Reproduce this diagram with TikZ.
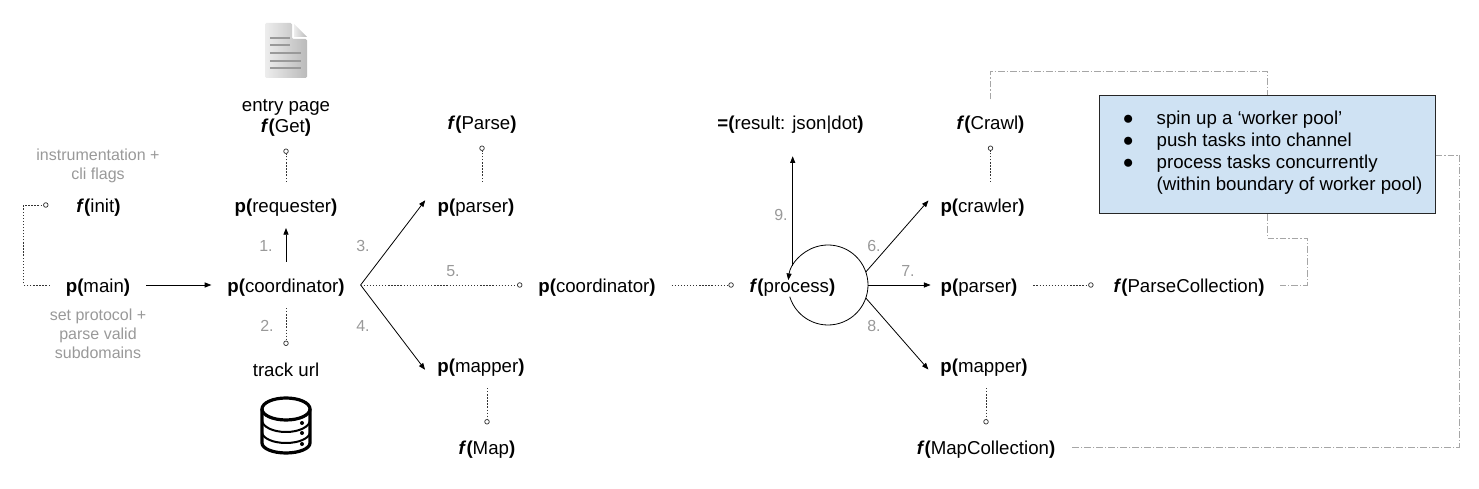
\documentclass[tikz,border=0pt]{standalone}
\usepackage{fontspec}
\setmainfont{Liberation Sans}
\usetikzlibrary{positioning,arrows.meta}
\definecolor{poolblue}{HTML}{CFE2F3}
\newcommand{\pfn}[1]{\textbf{p(}#1\textbf{)}}
\newcommand{\ffn}[1]{\textbf{\textit{f}(}#1\textbf{)}}
\tikzset{fnode/.style={font=\fontsize{14}{16}\selectfont, text height=14pt, text depth=3pt, inner xsep=12pt, inner ysep=8.8pt, outer sep=0pt}}
\tikzset{steplbl/.style={font=\fontsize{12}{14.25}\selectfont, text=black!40, align=center, inner sep=0pt}}
\tikzset{arr/.style={draw, -{Triangle[length=5pt,width=3.8pt]}, line width=.6pt}}
\tikzset{arr1/.style={arr, shorten >=-4.5pt}}
\tikzset{dots/.style={draw=black!80, line width=.55pt, dash pattern=on 1pt off 1.3pt, -{Circle[open,length=4pt,width=4pt,fill=white]}}}
\tikzset{gline/.style={draw=black!35, line width=.6pt, dash pattern=on 5pt off 1.5pt on 1pt off 1.5pt}}
\tikzset{poolbox/.style={draw=black!85, line width=.75pt, fill=poolblue, minimum width=252pt, minimum height=88.5pt, inner sep=0pt, font=\fontsize{14}{16.5}\selectfont}}
\begin{document}
\begin{tikzpicture}[x=.75pt, y=.75pt]
	\useasboundingbox (0,0) rectangle (1479,489);
	% left part
	\node[fnode] (main) at (98,204) {\pfn{main}};
	\node[fnode] (init) at (98.5,284) {\ffn{init}};
	\node[fnode] (coord) at (286,204) {\pfn{coordinator}};
	\node[fnode] (req) at (286,284) {\pfn{requester}};
	\node[fnode] (get) at (286,363.5) {\ffn{Get}};
	\node[fnode] (entry) at (286,385) {entry page};
	\node[fnode] (track) at (286,120) {track url};
	\node[steplbl] (flags) at (98,323.5) {instrumentation +\\cli flags};
	\node[steplbl] (proto) at (98,155) {set protocol +\\parse valid\\subdomains};
	%
	\node[fnode] (parser) at (476,284) {\pfn{parser}};
	\node[fnode] (parse) at (482,366.5) {\ffn{Parse}};
	\node[fnode] (mapper) at (481,124) {\pfn{mapper}};
	\node[fnode] (map) at (487,41.5) {\ffn{Map}};
	\node[fnode] (coordb) at (597,204) {\pfn{coordinator}};
	% process
	\node[fnode] (proc) at (792.5,204) {\ffn{process}};
	\node[circle, minimum size=60pt, inner sep=0pt, outer sep=0pt] (ring) at (828,204) {};
	\node[fnode] (result) at (790.5,366.5) {\textbf{=(}result: json|dot\textbf{)}};
	% right part
	\node[fnode] (crawler) at (982.5,284) {\pfn{crawler}};
	\node[fnode] (crawl) at (990.5,366.5) {\ffn{Crawl}};
	\node[fnode] (parserb) at (979,204) {\pfn{parser}};
	\node[fnode] (mapperb) at (984,124) {\pfn{mapper}};
	\node[fnode] (mcoll) at (986,41.5) {\ffn{MapCollection}};
	\node[fnode] (pcoll) at (1189,204) {\ffn{ParseCollection}};
	\node[poolbox] (pool) at (1267,334) {\begin{tabular}{@{\hspace{8.25pt}}p{25.5pt}@{}l@{}}
		●&spin up a ‘worker pool’\\
		●&push tasks into channel\\
		●&process tasks concurrently\\
		&(within boundary of worker pool)\\[3.25pt]
	\end{tabular}};
	% step numbers
	\node[steplbl] (s1) at (266,243) {1.};
	\node[steplbl] (s2) at (267,163) {2.};
	\node[steplbl] (s3) at (363,243) {3.};
	\node[steplbl] (s4) at (363,163) {4.};
	\node[steplbl] (s5) at (453,218) {5.};
	\node[steplbl] (s6) at (874,243) {6.};
	\node[steplbl] (s7) at (908,218) {7.};
	\node[steplbl] (s8) at (874,163) {8.};
	\node[steplbl] (s9) at (781,274) {9.};
	% connectors
	\draw[arr] (main) -- (coord);
	\draw[arr] (coord) -- (req);
	\draw[arr1] (coord.east) -- (parser.west);
	\draw[arr1] (coord.east) -- (mapper.west);
	\draw[dots] (coord.east) -- (coordb.west);
	\draw[dots] (coordb) -- (proc);
	\draw[dots, shorten >=9pt] (main.west) -- ++(-26,0) |- (init.west);
	\draw[dots] (req) -- (get);
	\draw[dots] (coord) -- (track);
	\draw[dots] (parse.south |- parser.north) -- (parse.south);
	\draw[dots] (map.north |- mapper.south) -- (map.north);
	\draw[arr1] (ring.19) -- (crawler.west);
	\draw[arr1] (ring.0) -- (parserb.west);
	\draw[arr1] (ring.-19) -- (mapperb.west);
	\draw[arr] (ring.197) arc[start angle=197, end angle=533, radius=40];
	\draw[arr, shorten >=8pt] (ring.152) -- (ring.152 |- result.south);
	\draw[dots] (crawl.south |- crawler.north) -- (crawl.south);
	\draw[dots] (mcoll.north |- mapperb.south) -- (mcoll.north);
	\draw[dots, shorten >=3pt] (parserb) -- (pcoll);
	% worker pool lines
	\coordinate (topturn) at (1267,418);
	\coordinate (midturn) at (1307,251);
	\coordinate (farturn) at (1459,334);
	\draw[gline] (crawl.north) |- (topturn) -- (pool.north);
	\draw[gline] (pool.south) |- (midturn) |- (pcoll.east);
	\draw[gline] (pool.east) -- (farturn) |- (mcoll.east);
	% page icon
	\shade[left color=black!7, right color=black!27, rounded corners=1pt] (265,466) -- (292,466) -- (292,450) -- (307,450) -- (307,411) -- (265,411) -- cycle;
	\shade[left color=black!7, right color=black!27] (294,465) -- (307,452) -- (294,452) -- cycle;
	\draw[black!40, line width=2.2pt] (270,451) -- (290,451) (270,444) -- (290,444) (270,436) -- (301,436) (270,428) -- (301,428) (270,421) -- (301,421);
	% database icon
	\draw[line width=2.4pt] (286,80) ellipse [x radius=24, y radius=11];
	\draw[line width=2.4pt] (262,80) -- (262,46) arc[start angle=180, end angle=360, x radius=24, y radius=10] -- (310,80);
	\draw[line width=1.5pt] (262,69) arc[start angle=180, end angle=360, x radius=24, y radius=12];
	\draw[line width=1.5pt] (262,57) arc[start angle=180, end angle=360, x radius=24, y radius=11];
	\fill (302,66) circle (2) (302,56) circle (2) (302,45) circle (2);
\end{tikzpicture}
\end{document}
